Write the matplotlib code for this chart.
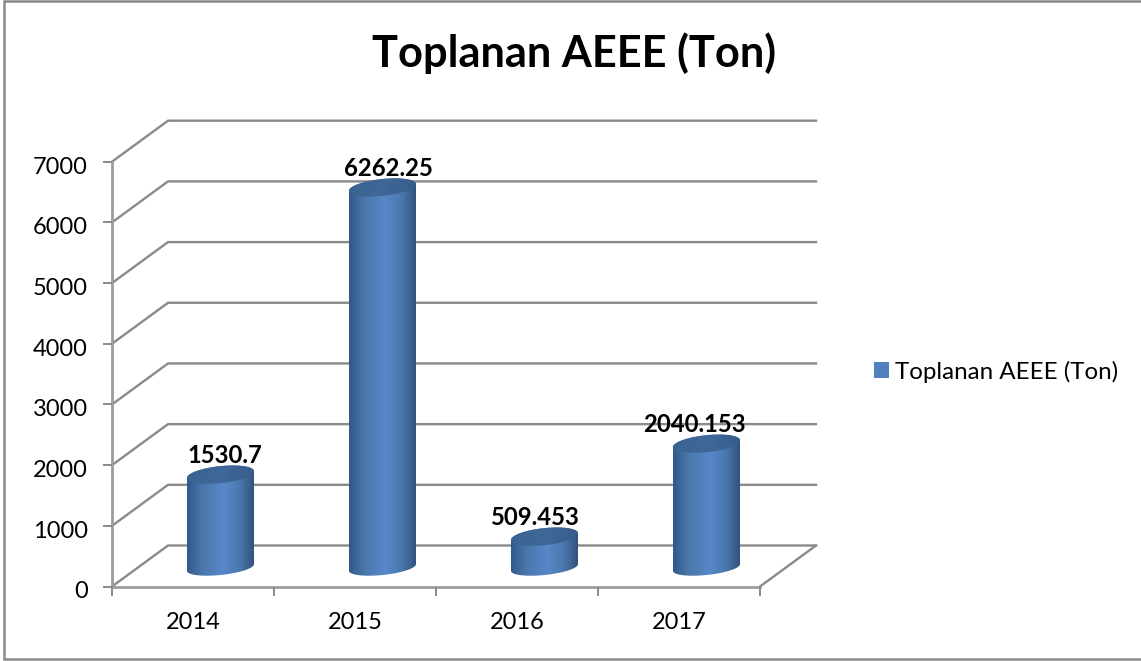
import numpy as np
import matplotlib
matplotlib.use('Agg')
import matplotlib.pyplot as plt
from matplotlib.colors import LinearSegmentedColormap
from matplotlib.lines import Line2D
from matplotlib.patches import Patch, PathPatch, Polygon
from matplotlib.path import Path
from matplotlib.transforms import ScaledTranslation

plt.rcParams['font.family'] = ['Lato', 'DejaVu Sans']

years = ['2014', '2015', '2016', '2017']
values = [1530.7, 6262.25, 509.453, 2040.153]
value_labels = ['1530.7', '6262.25', '509.453', '2040.153']
y_ticks = [0, 1000, 2000, 3000, 4000, 5000, 6000, 7000]
title = 'Toplanan AEEE (Ton)'

W, H = 1141, 661
GRID = '#8a8a8a'
AXIS = '#9c9c9c'

fig = plt.figure(figsize=(W / 100, H / 100), dpi=100)
# front plane of the fake 3d box, in pixels
left, right, top, bottom = 112, 760, 161.7, 586.5
ax = fig.add_axes([left / W, 1 - bottom / H, (right - left) / W, (bottom - top) / H])
ax.set_xlim(0, 4)
ax.set_ylim(0, 7000)
ax.patch.set_alpha(0)

# depth offset of the back wall, in data units
dx = 56 / 162
dy = 41 / 60.7 * 1000

# outer frame, open on the right
fig.add_artist(Line2D([1, 4 / W, 4 / W, 1], [1 - 1 / H, 1 - 1 / H, 1 - 659 / H, 1 - 659 / H],
                      transform=fig.transFigure, color=GRID, lw=1.8, solid_joinstyle='miter'))

for v in y_ticks:
    ax.plot([0, dx, 4 + dx], [v, v + dy, v + dy], color=GRID, lw=1.7, clip_on=False, zorder=1,
            solid_joinstyle='miter')
ax.plot([4, 4 + dx], [0, dy], color=GRID, lw=1.7, clip_on=False, zorder=1)

for s in ['top', 'right']:
    ax.spines[s].set_visible(False)
for s in ['left', 'bottom']:
    ax.spines[s].set_color(AXIS)
    ax.spines[s].set_linewidth(2)
    ax.spines[s].set_zorder(1)
ax.set_yticks(y_ticks)
ax.set_xticks(range(5))
ax.set_xticklabels([])
ax.tick_params(axis='both', color=GRID, width=1.4, length=6.5, labelsize=17, colors=GRID,
               labelcolor='#000000')
ax.tick_params(axis='y', pad=11)
# labels sit a little under their ticks
for lbl in ax.get_yticklabels():
    lbl.set_transform(lbl.get_transform() + ScaledTranslation(0, -2.5 / 72, fig.dpi_scale_trans))
for i, year in enumerate(years):
    ax.text(i + 0.5, -585, year, ha='center', va='center', fontsize=17, color='black')

# cylinders
shade = LinearSegmentedColormap.from_list('cyl', [(0, '#32588a'), (0.22, '#4a76aa'), (0.55, '#5688ca'),
                                                  (0.8, '#4a76aa'), (1, '#31527e')])
shade_top = LinearSegmentedColormap.from_list('cyl_top', ['#3b6492', '#3f6898', '#385d8b'])
half_w = 33.5 / 162
cap_minor = 8.5 / 60.7 * 1000
base_minor = 7.5 / 60.7 * 1000
tilt = 55
base = 19 / 60.7 * 1000
cx_off = 27.5 / 162
# label shift from the bar centre, in points
label_dx = [3.5, 4, -7.5, -8.5]
t = np.linspace(0, 2 * np.pi, 121)
grad = np.linspace(0, 1, 256).reshape(1, -1)


def ring(cx, cy, a, minor):
    return cx + half_w * np.cos(a), cy + minor * np.sin(a) + tilt * np.cos(a)


for i, v in enumerate(values):
    cx = i + 0.5 + cx_off
    y0, y1 = base, base + v
    xl, yl = ring(cx, y0, np.linspace(np.pi, 2 * np.pi, 61), base_minor)
    xu, yu = ring(cx, y1, np.linspace(0, np.pi, 61), cap_minor)
    pts = np.r_[np.c_[xl, yl], np.c_[xu, yu], [[xl[0], yl[0]]]]
    body = PathPatch(Path(pts), fc='none', ec='none')
    ax.add_patch(body)
    body.set_clip_on(False)
    im = ax.imshow(grad, extent=[cx - half_w, cx + half_w, y0 - 300, y1 + 300], aspect='auto',
                   cmap=shade, vmin=0, vmax=1, zorder=3, origin='lower')
    im.set_clip_path(body)
    xt, yt = ring(cx, y1, t, cap_minor)
    cap = Polygon(np.c_[xt, yt], closed=True, fc='none', ec='none')
    ax.add_patch(cap)
    cap.set_clip_on(False)
    im2 = ax.imshow(grad, extent=[cx - half_w, cx + half_w, y1 - 300, y1 + 300], aspect='auto',
                    cmap=shade_top, vmin=0, vmax=1, zorder=4, origin='lower')
    im2.set_clip_path(cap)
    ax.annotate(value_labels[i], (cx, y1), xytext=(label_dx[i], 13.5), textcoords='offset points',
                ha='center', va='center', fontsize=17.2, fontweight='bold', color='black', zorder=5,
                annotation_clip=False)

ax.set_xlim(0, 4)
ax.set_ylim(0, 7000)

fig.text(574.5 / W, 1 - 53 / H, title, ha='center', va='center', fontsize=31.2, fontweight='bold')

fig.legend(handles=[Patch(fc='#4f81bd', ec='none', label=title)], loc='center left',
           bbox_to_anchor=(874 / W, 1 - 371.5 / H), frameon=False, fontsize=17.4, handlelength=0.62,
           handleheight=0.62, handletextpad=0.25, borderpad=0, borderaxespad=0)

fig.savefig('out.png', dpi=100)
